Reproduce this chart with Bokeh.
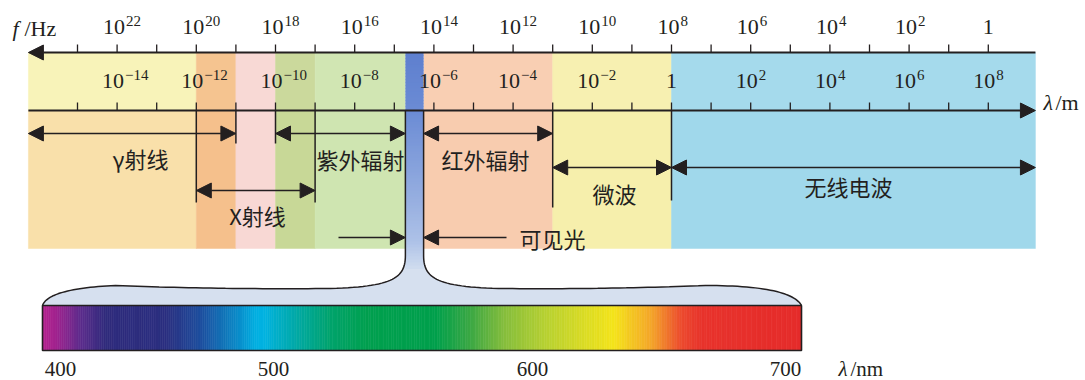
import numpy as np
from bokeh.plotting import figure
from bokeh.models import Range1d, Arrow, NormalHead
from bokeh.embed import file_html
from bokeh.resources import INLINE
from bokeh.core.properties import value

# ---------------- data ----------------
# lower scale: wavelength  lambda/m = 10^n
lambda_exp_labels = [-14, -12, -10, -8, -6, -4, -2, 0, 2, 4, 6, 8]
# upper scale: frequency  f/Hz = 10^n  (10^8 Hz drawn above 1 m)
freq_exp_labels = [22, 20, 18, 16, 14, 12, 10, 8, 6, 4, 2, 0]
tick_exps = list(range(-15, 9))

# named regions (log10 of wavelength in m)
band_names = ["γ射线", "X射线", "紫外辐射", "可见光", "红外辐射", "微波", "无线电波"]
band_from = [-16.24, -12, -10, -6.72, -6.26, -3, 0]
band_to = [-11, -9, -6.72, -6.26, -3, 0, 9.19]

# background colour zones (log10 of wavelength in m)
zone_edges = [-16.24, -12, -11, -10, -9, -6.72, -6.26, -3, 0, 9.19]
zone_upper_colors = ["#F8F3B9", "#F5C490", "#F8D9D5", "#CBD99C", "#D1E6B3",
                     None, "#F9CFB3", "#F7F0B1", "#A5DAEC"]
zone_lower_colors = ["#F9E0AA", "#F5C08C", "#F8D8D4", "#C8D897", "#CFE5B1",
                     None, "#F8CCAF", "#F6EFAC", "#A0D8EB"]

# visible spectrum
spectrum_tick_nm = [400, 500, 600, 700]
spectrum_stop_nm = [391.5, 397.7, 409.4, 421.1, 449.3, 465.7, 482.6, 491.5, 495.8,
                    508.5, 522.0, 535.5, 562.2, 575.7, 588.8, 604.0, 631.6, 646.6,
                    658.5, 666.4, 706.3]
spectrum_stop_color = ["#B4228F", "#A0238F", "#5B2C8C", "#2F2B7C", "#2B2F80", "#1D4F9F",
                       "#0A8AC8", "#00B0E2", "#00B2E0", "#00A9A5", "#00A36A", "#00A04F",
                       "#00A04C", "#3CA844", "#86BE3C", "#B5D032", "#F4E41A", "#F4A52A",
                       "#EC4A2E", "#E8332C", "#E52C2B"]

# ---------------- layout ----------------
W, H = 1085, 380
E0_PX = 671.0        # screen x of lambda = 1 m
DEC = 39.6           # px per decade


def e_of_px(px):
    return (px - E0_PX) / DEC


Y_F_AXIS, Y_L_AXIS = 52, 110
Y_BAND_BOTTOM = 248
INK = "#231F20"
SERIF = value("Liberation Serif")
CJK = value("Noto Sans CJK SC")

# spectral scale of the enlarged strip (nm -> screen px)
SPEC_NM_ANCHOR = [391.5, 400, 500, 600, 700, 706.3]
SPEC_PX_ANCHOR = [42, 60, 273, 532, 785, 801]
SPEC_TOP, SPEC_BOTTOM = 305, 350


def nm_to_e(nm):
    return e_of_px(np.interp(nm, SPEC_NM_ANCHOR, SPEC_PX_ANCHOR))


p = figure(width=W, height=H, output_backend="svg", toolbar_location=None,
           x_range=Range1d(e_of_px(0), e_of_px(W)),
           y_range=Range1d(H, 0),
           x_axis_type=None, y_axis_type=None, min_border=0,
           background_fill_color="white", border_fill_color="white")
p.outline_line_color = None
p.title.visible = False

# ---- background zones ----
for i in range(len(zone_edges) - 1):
    if zone_upper_colors[i] is None:
        continue
    p.quad(left=zone_edges[i], right=zone_edges[i + 1], top=Y_F_AXIS, bottom=Y_L_AXIS,
           fill_color=zone_upper_colors[i], line_color=zone_upper_colors[i], line_width=0.5)
    p.quad(left=zone_edges[i], right=zone_edges[i + 1], top=Y_L_AXIS, bottom=Y_BAND_BOTTOM,
           fill_color=zone_lower_colors[i], line_color=zone_lower_colors[i], line_width=0.5)


def bez2(p0, c, p1, n=30):
    t = np.linspace(0, 1, n)[:, None]
    p0, c, p1 = map(np.array, (p0, c, p1))
    return (1 - t) ** 2 * p0 + 2 * (1 - t) * t * c + t ** 2 * p1


def bez3(p0, c1, c2, p1, n=30):
    t = np.linspace(0, 1, n)[:, None]
    p0, c1, c2, p1 = map(np.array, (p0, c1, c2, p1))
    return ((1 - t) ** 3 * p0 + 3 * (1 - t) ** 2 * t * c1 + 3 * (1 - t) * t ** 2 * c2
            + t ** 3 * p1)


vis_l_px = E0_PX + band_from[3] * DEC
vis_r_px = E0_PX + band_to[3] * DEC
spec_l_px, spec_r_px = SPEC_PX_ANCHOR[0], SPEC_PX_ANCHOR[-1]
NECK = 255
left_curve = np.vstack([
    bez2((spec_l_px, SPEC_TOP), (spec_l_px + 6, 288), (spec_l_px + 73, 285)),
    bez2((spec_l_px + 73, 285), (220, 289), (330, 288)),
    bez3((330, 288), (vis_l_px - 13, 286), (vis_l_px, 278), (vis_l_px, NECK)),
    [(vis_l_px, Y_L_AXIS)],
])
right_curve = np.vstack([
    [(vis_r_px, Y_L_AXIS)],
    bez3((vis_r_px, NECK), (vis_r_px, 278), (vis_r_px + 13, 286), (498, 288)),
    bez2((498, 288), (600, 289), (705, 285)),
    bez2((705, 285), (spec_r_px - 11, 285), (spec_r_px, SPEC_TOP)),
])
fill_pts = np.vstack([left_curve[:-1], [(vis_l_px, Y_BAND_BOTTOM), (vis_r_px, Y_BAND_BOTTOM)],
                      right_curve[1:]])
p.patch(x=e_of_px(fill_pts[:, 0]), y=fill_pts[:, 1], fill_color="#D6E0EF", line_color=None)

# ---- visible strip (vertical gradient) ----
strip_y = np.arange(Y_F_AXIS, 266, 3.0)
strip_stops_y = [52, 110, 200, 240, 266]
strip_stops_rgb = np.array([[0x5F, 0x80, 0xCF], [0x6C, 0x8C, 0xD5], [0x98, 0xB0, 0xE1],
                            [0xAE, 0xC2, 0xE8], [0xD0, 0xDC, 0xEF]])
for y0 in strip_y:
    rgb = [int(np.interp(y0, strip_stops_y, strip_stops_rgb[:, k])) for k in range(3)]
    col = "#%02X%02X%02X" % tuple(rgb)
    p.quad(left=band_from[3], right=band_to[3], top=y0, bottom=y0 + 3.5,
           fill_color=col, line_color=None)

# ---- spectrum strip ----
stop_rgb = np.array([[int(c[1:3], 16), int(c[3:5], 16), int(c[5:7], 16)]
                     for c in spectrum_stop_color])
nm_grid = np.linspace(spectrum_stop_nm[0], spectrum_stop_nm[-1], 320)
cols = []
for nm in nm_grid:
    rgb = [int(round(np.interp(nm, spectrum_stop_nm, stop_rgb[:, k]))) for k in range(3)]
    cols.append("#%02X%02X%02X" % tuple(rgb))
step = nm_grid[1] - nm_grid[0]
p.quad(left=nm_to_e(nm_grid), right=nm_to_e(np.minimum(nm_grid + step, nm_grid[-1])),
       top=SPEC_TOP, bottom=SPEC_BOTTOM, fill_color=cols, line_color=cols, line_width=0.6)
p.quad(left=nm_to_e(spectrum_stop_nm[0]), right=nm_to_e(spectrum_stop_nm[-1]),
       top=SPEC_TOP, bottom=SPEC_BOTTOM, fill_color=None, line_color=INK, line_width=1.6)

# funnel outline
p.line(x=e_of_px(left_curve[:, 0]), y=left_curve[:, 1], line_color=INK, line_width=1.5)
p.line(x=e_of_px(right_curve[:, 0]), y=right_curve[:, 1], line_color=INK, line_width=1.5)

# ---- axes ----
head = dict(fill_color=INK, line_color=INK, line_width=1)
p.add_layout(Arrow(x_start=band_to[-1], y_start=Y_F_AXIS, x_end=band_from[0], y_end=Y_F_AXIS,
                   start=None, end=NormalHead(size=15, **head), line_color=INK, line_width=2))
p.add_layout(Arrow(x_start=band_from[0], y_start=Y_L_AXIS, x_end=band_to[-1], y_end=Y_L_AXIS,
                   start=None, end=NormalHead(size=15, **head), line_color=INK, line_width=2))
p.segment(x0=tick_exps, x1=tick_exps, y0=[Y_F_AXIS - 8] * len(tick_exps),
          y1=[Y_F_AXIS] * len(tick_exps), line_color=INK, line_width=1.3)
p.segment(x0=tick_exps, x1=tick_exps, y0=[Y_L_AXIS - 8] * len(tick_exps),
          y1=[Y_L_AXIS] * len(tick_exps), line_color=INK, line_width=1.3)

# frequency labels
f_pos = [8 - f for f in freq_exp_labels]
pw_f = [(x, f) for x, f in zip(f_pos, freq_exp_labels) if f != 0]
p.text(x=[x for x, _ in pw_f], y=[26] * len(pw_f), text=["10"] * len(pw_f), x_offset=8,
       text_align="right", text_baseline="middle", text_font=SERIF,
       text_font_size="22px", text_color=INK)
p.text(x=[x for x, _ in pw_f], y=[20] * len(pw_f), text=[str(f) for _, f in pw_f], x_offset=9,
       text_align="left", text_baseline="middle", text_font=SERIF,
       text_font_size="15px", text_color=INK)
one_f = [x for x, f in zip(f_pos, freq_exp_labels) if f == 0]
p.text(x=one_f, y=[26], text=["1"], text_align="center", text_baseline="middle",
       text_font=SERIF, text_font_size="22px", text_color=INK)

# wavelength labels
pw_l = [n for n in lambda_exp_labels if n != 0]
p.text(x=pw_l, y=[80] * len(pw_l), text=["10"] * len(pw_l), x_offset=7,
       text_align="right", text_baseline="middle", text_font=SERIF,
       text_font_size="22px", text_color=INK)
p.text(x=pw_l, y=[74] * len(pw_l), text=[str(n).replace("-", "\u2212") for n in pw_l],
       x_offset=8, text_align="left", text_baseline="middle", text_font=SERIF,
       text_font_size="15px", text_color=INK)
p.text(x=[0], y=[80], text=["1"], text_align="center", text_baseline="middle",
       text_font=SERIF, text_font_size="22px", text_color=INK)

# unit labels
p.text(x=[e_of_px(12)], y=[28], text=["f"], text_align="left", text_baseline="middle",
       text_font=SERIF, text_font_style="italic", text_font_size="22px", text_color=INK)
p.text(x=[e_of_px(24)], y=[28], text=["/Hz"], text_align="left", text_baseline="middle",
       text_font=SERIF, text_font_size="22px", text_color=INK)
p.text(x=[e_of_px(1043)], y=[102], text=["λ"], text_align="left", text_baseline="middle",
       text_font=SERIF, text_font_style="italic", text_font_size="22px", text_color=INK)
p.text(x=[e_of_px(1055)], y=[102], text=["/m"], text_align="left", text_baseline="middle",
       text_font=SERIF, text_font_size="22px", text_color=INK)

# ---- region arrows and brackets ----
arrow_y = [133, 190, 133, None, 133, 167, 167]
for a, b, y in zip(band_from, band_to, arrow_y):
    if y is None:
        continue
    p.add_layout(Arrow(x_start=a, y_start=y, x_end=b, y_end=y,
                       start=NormalHead(size=15, **head), end=NormalHead(size=15, **head),
                       line_color=INK, line_width=1.6))
# visible light pointers
p.add_layout(Arrow(x_start=e_of_px(338), y_start=237, x_end=band_from[3], y_end=237,
                   start=None, end=NormalHead(size=15, **head), line_color=INK, line_width=1.6))
p.add_layout(Arrow(x_start=e_of_px(506), y_start=237, x_end=band_to[3], y_end=237,
                   start=None, end=NormalHead(size=15, **head), line_color=INK, line_width=1.6))

bracket_x = [-12, -11, -10, -9, -3, 0]
bracket_bottom = [202, 143, 143, 202, 207, 200]
p.segment(x0=bracket_x, x1=bracket_x, y0=[Y_L_AXIS] * len(bracket_x), y1=bracket_bottom,
          line_color=INK, line_width=1.5)

label_px = [140, 257, 360, 552, 485, 614, 848]
label_y = [157, 214, 158, 237, 158, 192, 185]
p.text(x=[e_of_px(v) for v in label_px], y=label_y, text=band_names, text_align="center",
       text_baseline="middle", text_font=CJK, text_font_size="22px", text_color=INK)

# spectrum labels
p.text(x=[nm_to_e(v) for v in spectrum_tick_nm], y=[368] * 4,
       text=[str(v) for v in spectrum_tick_nm], text_align="center",
       text_baseline="middle", text_font=SERIF, text_font_size="21px", text_color=INK)
p.text(x=[e_of_px(838)], y=[368], text=["λ"], text_align="left", text_baseline="middle",
       text_font=SERIF, text_font_style="italic", text_font_size="21px", text_color=INK)
p.text(x=[e_of_px(850)], y=[368], text=["/nm"], text_align="left", text_baseline="middle",
       text_font=SERIF, text_font_size="21px", text_color=INK)

open("out.html", "w").write(file_html(p, INLINE))
